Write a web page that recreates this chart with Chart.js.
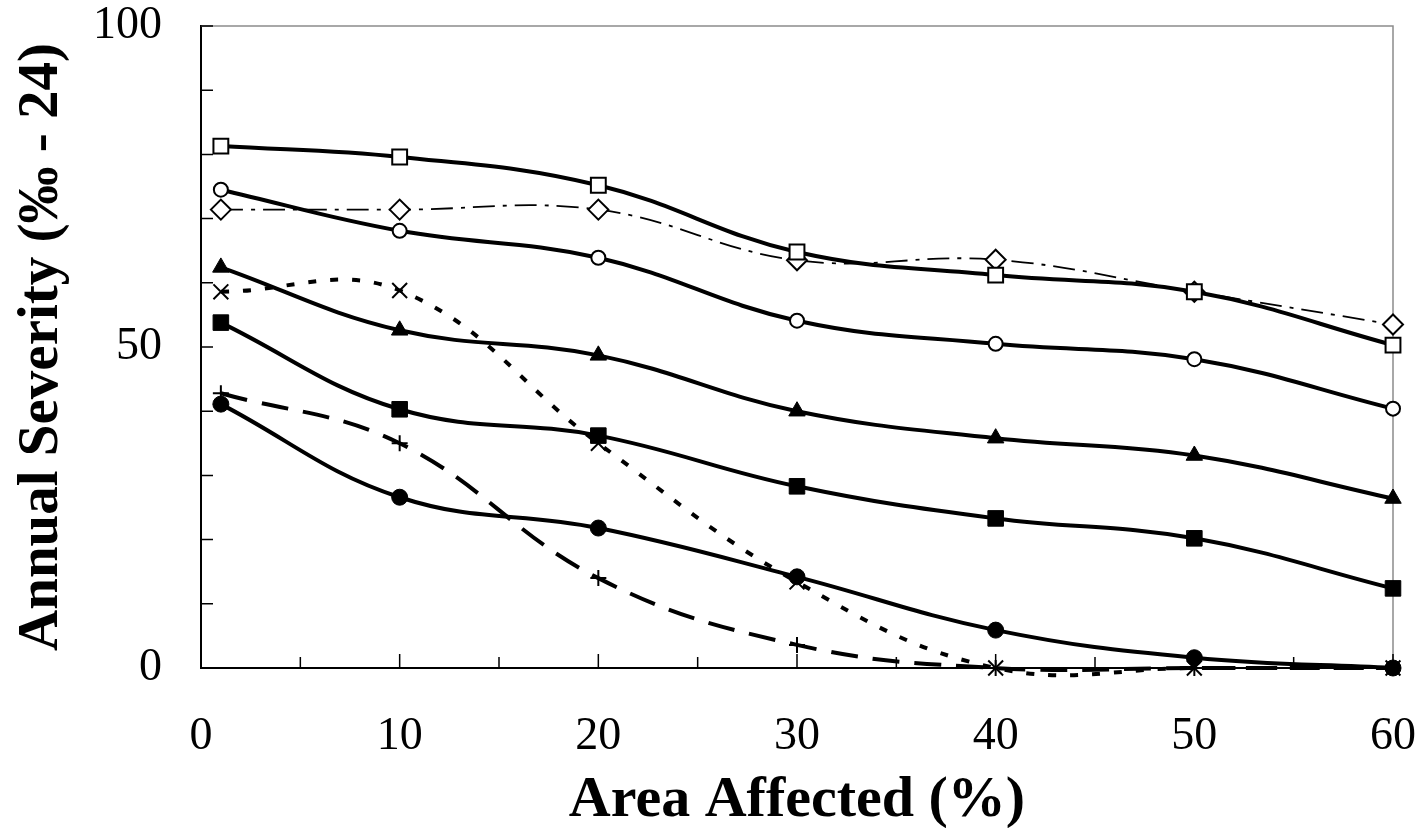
<!DOCTYPE html>
<html>
<head>
<meta charset="utf-8">
<title>Annual Severity vs Area Affected</title>
<script src="https://cdn.jsdelivr.net/npm/chart.js@4"></script>
<style>
    html, body { margin: 0; padding: 0; background: #fff; }
    canvas { display: block; }
</style>
</head>
<body>
<canvas id="severityChart" width="1426" height="828"></canvas>
<script>
// x positions (% area affected)
const areaAffected = [1, 10, 20, 30, 40, 50, 60];

// y values, one array per curve
const openSquare     = [81.3, 79.6, 75.2, 64.8, 61.2, 58.6, 50.3];
const openCircle     = [74.5, 68.1, 63.9, 54.1, 50.5, 48.1, 40.4];
const openDiamond    = [71.4, 71.4, 71.4, 63.5, 63.6, 58.6, 53.5];
const filledTriangle = [62.4, 52.6, 48.7, 40.0, 35.8, 33.1, 26.4];
const crossMark      = [58.6, 58.8, 35.0, 13.4, 0, 0, 0];
const filledSquare   = [53.8, 40.3, 36.2, 28.3, 23.3, 20.2, 12.4];
const plusMark       = [42.8, 35.0, 14.0, 3.6, 0, 0, 0];
const filledCircle   = [41.1, 26.6, 21.8, 14.2, 5.9, 1.6, 0];

const yLabelValues = [0, 50, 100];
const xLabelValues = [0, 10, 20, 30, 40, 50, 60];

const serif = '"Liberation Serif", "Times New Roman", serif';

function series(label, values, style) {
    return Object.assign({
        label: label,
        data: values.map((v, i) => ({ x: areaAffected[i], y: v })),
        borderColor: '#000',
        borderWidth: 4,
        tension: 0.4,
        fill: false,
        clip: false,
        pointBorderColor: '#000',
        pointBackgroundColor: '#000',
        pointBorderWidth: 1,
    }, style);
}

// inward tick marks + grey top/right frame
const axisMarks = {
    id: 'axisMarks',
    beforeDatasetsDraw(chart) {
        const { ctx, chartArea: a, scales: { x, y } } = chart;
        ctx.save();
        ctx.strokeStyle = '#8c8c8c';
        ctx.lineWidth = 1.5;
        ctx.beginPath();
        ctx.moveTo(a.left, a.top);
        ctx.lineTo(a.right, a.top);
        ctx.lineTo(a.right, a.bottom);
        ctx.stroke();

        ctx.strokeStyle = '#000';
        ctx.lineWidth = 1.5;
        ctx.beginPath();
        y.ticks.forEach(t => {
            const py = y.getPixelForValue(t.value);
            ctx.moveTo(a.left, py);
            ctx.lineTo(a.left + 12, py);
        });
        x.ticks.forEach(t => {
            const px = x.getPixelForValue(t.value);
            const len = t.value % 10 === 0 ? 14 : 11;
            ctx.moveTo(px, a.bottom);
            ctx.lineTo(px, a.bottom - len);
        });
        ctx.stroke();
        ctx.restore();
    }
};

new Chart(document.getElementById('severityChart'), {
    type: 'line',
    data: {
        datasets: [
            series('Open square', openSquare, {
                pointStyle: 'rect', pointRadius: 10.5, pointBackgroundColor: '#fff', pointBorderWidth: 2
            }),
            series('Open circle', openCircle, {
                pointStyle: 'circle', pointRadius: 7, pointBackgroundColor: '#fff', pointBorderWidth: 2
            }),
            series('Open diamond', openDiamond, {
                borderWidth: 1.8, borderDash: [22, 8, 4, 8],
                pointStyle: 'rectRot', pointRadius: 10, pointBackgroundColor: '#fff', pointBorderWidth: 2
            }),
            series('Filled triangle', filledTriangle, {
                pointStyle: 'triangle', pointRadius: 9.5
            }),
            series('Cross', crossMark, {
                borderDash: [8, 14],
                pointStyle: 'crossRot', pointRadius: 10.5, pointBorderWidth: 2
            }),
            series('Filled square', filledSquare, {
                pointStyle: 'rect', pointRadius: 11
            }),
            series('Plus', plusMark, {
                borderDash: [27, 15],
                pointStyle: 'cross', pointRadius: 8, pointBorderWidth: 2
            }),
            series('Filled circle', filledCircle, {
                pointStyle: 'circle', pointRadius: 8
            })
        ]
    },
    options: {
        responsive: false,
        animation: false,
        devicePixelRatio: 1,
        layout: { padding: { top: 26, right: 33, left: 0, bottom: 0 } },
        elements: { line: { capBezierPoints: false } },
        plugins: {
            legend: { display: false },
            tooltip: { enabled: false }
        },
        scales: {
            x: {
                type: 'linear',
                min: 0,
                max: 60,
                afterFit: s => { s.height = 160; s.paddingLeft = 0; s.paddingRight = 0; },
                border: { display: true, color: '#000', width: 2 },
                grid: { drawOnChartArea: false, drawTicks: false },
                ticks: {
                    stepSize: 5,
                    autoSkip: false,
                    maxRotation: 0,
                    padding: 41,
                    color: '#000',
                    font: { family: serif, size: 46 },
                    callback: v => xLabelValues.includes(v) ? String(v) : ''
                },
                title: {
                    display: true,
                    text: 'Area Affected (%)',
                    color: '#000',
                    font: { family: serif, size: 58, weight: 'bold', lineHeight: 0.9 },
                    padding: { top: 0, bottom: 1 }
                }
            },
            y: {
                min: 0,
                max: 100,
                afterFit: s => { s.width = 201; s.paddingTop = 0; s.paddingBottom = 0; },
                border: { display: true, color: '#000', width: 2 },
                grid: { drawOnChartArea: false, drawTicks: false },
                ticks: {
                    stepSize: 10,
                    autoSkip: false,
                    padding: 39,
                    color: '#000',
                    font: { family: serif, size: 46 },
                    callback: v => yLabelValues.includes(v) ? String(v) : ''
                },
                title: {
                    display: true,
                    text: 'Annual Severity (‰ - 24)',
                    color: '#000',
                    font: { family: serif, size: 57, weight: 'bold', lineHeight: 1 },
                    padding: { top: 14, bottom: 0 }
                }
            }
        }
    },
    plugins: [axisMarks]
});
</script>
</body>
</html>
